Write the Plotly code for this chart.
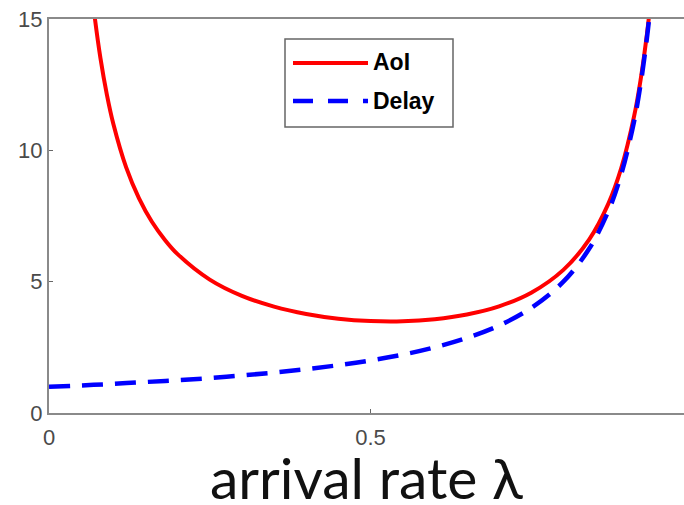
import plotly.graph_objects as go

# arrival rate values
lam_aoi = [0.065, 0.07, 0.08, 0.09, 0.10, 0.12, 0.14, 0.16, 0.18, 0.20, 0.25, 0.30, 0.35,
           0.40, 0.45, 0.50, 0.55, 0.60, 0.65, 0.70, 0.75, 0.80, 0.84, 0.87, 0.89, 0.91,
           0.92, 0.93, 0.935]
aoi = [16.39, 15.29, 13.51, 12.12, 11.01, 9.35, 8.17, 7.28, 6.60, 6.05, 5.08, 4.46, 4.05,
       3.77, 3.59, 3.50, 3.49, 3.57, 3.75, 4.06, 4.58, 5.45, 6.60, 7.97, 9.32, 11.30,
       12.67, 14.43, 15.52]

lam_delay = [0.0, 0.05, 0.10, 0.15, 0.20, 0.25, 0.30, 0.35, 0.40, 0.45, 0.50, 0.55, 0.60,
             0.65, 0.70, 0.75, 0.80, 0.84, 0.87, 0.89, 0.91, 0.92, 0.93, 0.935]
delay = [1.00, 1.05, 1.11, 1.18, 1.25, 1.33, 1.43, 1.54, 1.67, 1.82, 2.00, 2.22, 2.50,
         2.86, 3.33, 4.00, 5.00, 6.25, 7.69, 9.09, 11.11, 12.50, 14.29, 15.38]

x_ticks = [0, 0.5]
x_tick_labels = ["0", "0.5"]
y_ticks = [0, 5, 10, 15]
y_tick_labels = ["0", "5", "10", "15"]

W, H = 684, 505
L, R, T, B = 49, 0, 19, 92
PW, PH = W - L - R, H - T - B

def px(x):
    return (x - L) / PW

def py(y):
    return 1 - (y - T) / PH

fig = go.Figure()
fig.add_trace(go.Scatter(x=lam_aoi, y=aoi, mode="lines", name="AoI",
                         line=dict(color="#ff0000", width=4), line_shape="spline",
                         showlegend=False))
fig.add_trace(go.Scatter(x=lam_delay, y=delay, mode="lines", name="Delay",
                         line=dict(color="#0000ff", width=4.5, dash="21px,12px"),
                         line_shape="spline", showlegend=False))

axis_common = dict(showline=True, linecolor="#8a8a8a", linewidth=2, ticks="inside",
                   ticklen=4, tickcolor="#666666", showgrid=False, zeroline=False,
                   tickfont=dict(family="Liberation Sans, Arial", size=22, color="#4a4a4a"))

fig.update_xaxes(range=[0, 0.9876], tickvals=x_ticks, ticktext=x_tick_labels,
                 mirror=True, ticklabelstandoff=4, **axis_common)
fig.update_yaxes(range=[0, 15], tickvals=y_ticks, ticktext=y_tick_labels, **axis_common)

# legend box
shapes = [
    dict(type="rect", xref="paper", yref="paper", x0=px(285), x1=px(453), y0=py(127), y1=py(39),
         line=dict(color="#666666", width=1.5), fillcolor="white", layer="above"),
    dict(type="line", xref="paper", yref="paper", x0=px(293), x1=px(368), y0=py(63), y1=py(63),
         line=dict(color="#ff0000", width=4), layer="above"),
    dict(type="line", xref="paper", yref="paper", x0=px(293), x1=px(368), y0=py(101), y1=py(101),
         line=dict(color="#0000ff", width=4.5, dash="20px,15px"), layer="above"),
]
annotations = [
    dict(xref="paper", yref="paper", x=px(371), y=py(62), text="<b>AoI</b>", showarrow=False,
         xanchor="left", yanchor="middle", font=dict(family="Liberation Sans, Arial", size=23, color="black")),
    dict(xref="paper", yref="paper", x=px(371), y=py(101), text="<b>Delay</b>", showarrow=False,
         xanchor="left", yanchor="middle", font=dict(family="Liberation Sans, Arial", size=23, color="black")),
    dict(xref="paper", yref="paper", x=px(366), y=py(477), text="arrival rate λ", showarrow=False,
         xanchor="center", yanchor="middle", font=dict(family="Lato", size=57, color="#111111")),
]

fig.update_layout(width=W, height=H, margin=dict(l=L, r=R, t=T, b=B, pad=0),
                  plot_bgcolor="white", paper_bgcolor="white",
                  shapes=shapes, annotations=annotations)

fig.write_html("out.html")
